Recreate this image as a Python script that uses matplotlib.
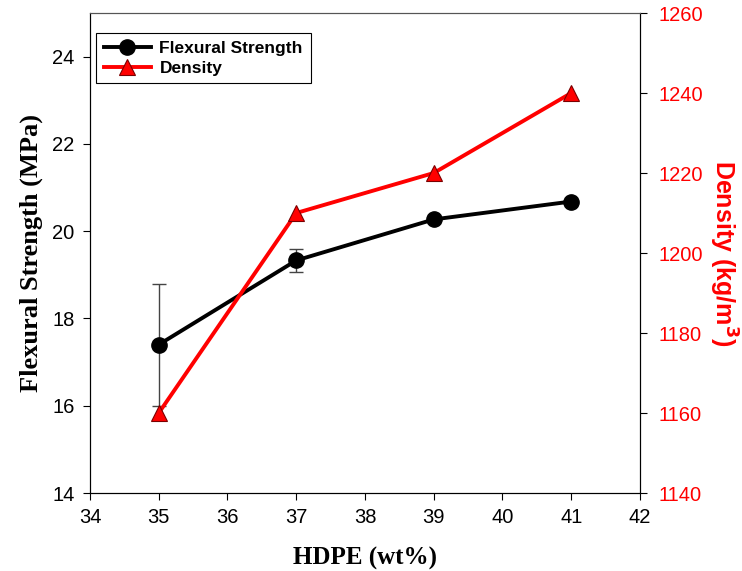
import numpy as np
import matplotlib.pyplot as plt

hdpe = [35, 37, 39, 41]
flexural = [17.4, 19.33, 20.27, 20.68]
flexural_err = [1.4, 0.26, 0.0, 0.0]
density = [1160, 1210, 1220, 1240]

x_ticks = [34, 35, 36, 37, 38, 39, 40, 41, 42]
left_ticks = [14, 16, 18, 20, 22, 24]
right_ticks = [1140, 1160, 1180, 1200, 1220, 1240, 1260]

plt.rcParams['font.family'] = ['Liberation Sans', 'DejaVu Sans']

fig = plt.figure(figsize=(7.42, 5.71), dpi=100)
ax = fig.add_axes([0.1213, 0.1366, 0.7412, 0.8406])
ax2 = ax.twinx()

ax.errorbar(hdpe, flexural, yerr=flexural_err, fmt='none', ecolor='#444444',
            elinewidth=1.0, capsize=5, capthick=1.0, zorder=2)
l1, = ax.plot(hdpe, flexural, '-o', color='black', lw=2.8, ms=11,
              markerfacecolor='black', markeredgecolor='black', zorder=3,
              label='Flexural Strength')
l2, = ax2.plot(hdpe, density, '-^', color='red', lw=2.8, ms=11,
               markerfacecolor='red', markeredgecolor='#7a0000', markeredgewidth=0.8,
               label='Density')

ax.set_xlim(34, 42)
ax.set_ylim(14, 25)
ax2.set_ylim(1140, 1260)
ax.set_xticks(x_ticks)
ax.set_yticks(left_ticks)
ax2.set_yticks(right_ticks)

ax.tick_params(direction='out', length=5, width=0.8, labelsize=14.5, pad=6)
ax2.tick_params(direction='out', length=5, width=0.8, labelsize=14.5, pad=8,
                labelcolor='red', colors='black')
for lab in ax2.get_yticklabels():
    lab.set_color('red')

for s in ['top', 'right', 'left', 'bottom']:
    ax.spines[s].set_linewidth(0.8)
    ax2.spines[s].set_linewidth(0.8)
ax.spines['top'].set_color('#555555')
ax2.spines['top'].set_color('#555555')

ax.set_xlabel('HDPE (wt%)', family=['Liberation Serif'], fontweight='bold',
              fontsize=18, labelpad=14)
ax.set_ylabel('Flexural Strength (MPa)', family=['Liberation Serif'], fontweight='bold',
              fontsize=19, labelpad=7)
ax2.set_ylabel('Density (kg/m$^\\mathbf{3}$)', color='red', fontweight='bold',
               fontsize=18, rotation=270, labelpad=26)

leg = ax.legend(handles=[l1, l2], loc='upper left', bbox_to_anchor=(0.011, 0.958),
                borderaxespad=0, frameon=True, fancybox=False, edgecolor='black',
                framealpha=1, prop={'weight': 'bold', 'size': 12.5}, handlelength=2.7,
                borderpad=0.45, labelspacing=0.25, handletextpad=0.5)
leg.get_frame().set_linewidth(0.8)

fig.savefig('out.png', dpi=100)
